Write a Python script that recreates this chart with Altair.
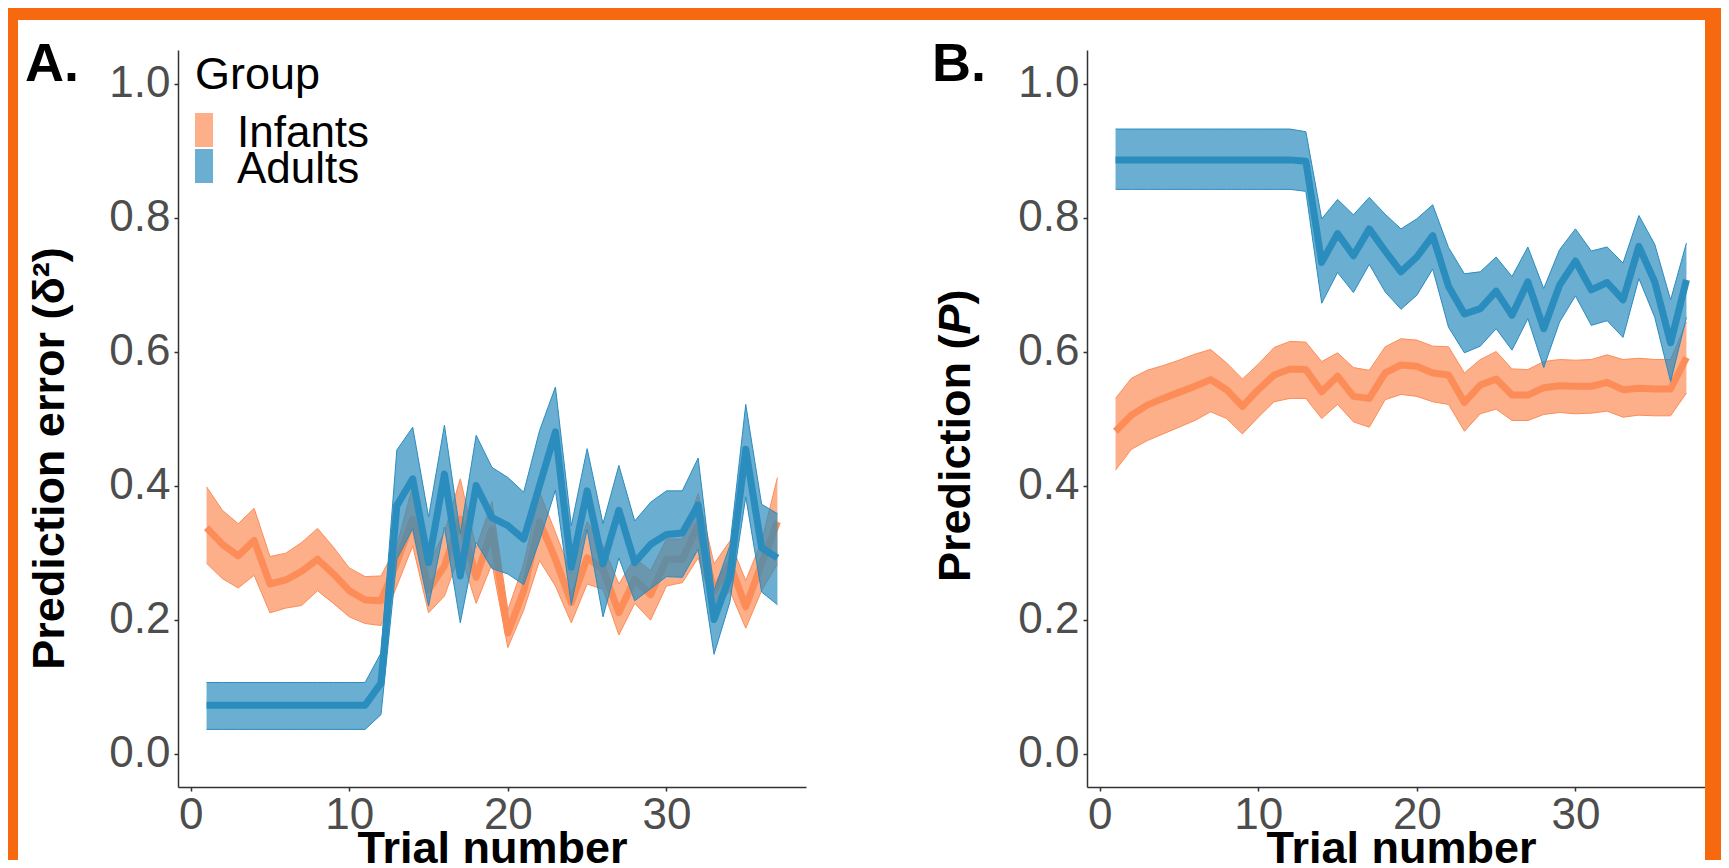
import altair as alt
import pandas as pd

# ---------------- data ----------------
trials = list(range(1, 38))
groups = ["Infants", "Adults"]
colors = ["#FC8D59", "#2B8CBE"]

# Panel A: prediction error
a_inf_mean = [0.337, 0.312, 0.295, 0.318, 0.253, 0.259, 0.272, 0.290, 0.268, 0.243, 0.229, 0.228, 0.285,
              0.350, 0.244, 0.280, 0.350, 0.263, 0.334, 0.180, 0.243, 0.346, 0.290, 0.225, 0.292, 0.275,
              0.210, 0.260, 0.237, 0.290, 0.290, 0.341, 0.243, 0.283, 0.219, 0.283, 0.346]
a_inf_hi = [0.398, 0.363, 0.343, 0.366, 0.294, 0.299, 0.315, 0.336, 0.308, 0.277, 0.264, 0.265, 0.310,
            0.400, 0.283, 0.330, 0.410, 0.307, 0.376, 0.214, 0.283, 0.390, 0.330, 0.268, 0.346, 0.310,
            0.253, 0.292, 0.273, 0.320, 0.320, 0.388, 0.283, 0.317, 0.258, 0.317, 0.412]
a_inf_lo = [0.284, 0.261, 0.247, 0.266, 0.210, 0.217, 0.221, 0.243, 0.224, 0.204, 0.194, 0.191, 0.250,
            0.310, 0.210, 0.235, 0.300, 0.224, 0.283, 0.158, 0.214, 0.288, 0.250, 0.195, 0.253, 0.245,
            0.177, 0.224, 0.199, 0.250, 0.255, 0.292, 0.214, 0.243, 0.187, 0.243, 0.283]

a_ad_mean = [0.072, 0.072, 0.072, 0.072, 0.072, 0.072, 0.072, 0.072, 0.072, 0.072, 0.072, 0.105, 0.370,
             0.410, 0.285, 0.417, 0.265, 0.400, 0.352, 0.340, 0.320, 0.400, 0.480, 0.278, 0.392, 0.283,
             0.363, 0.285, 0.312, 0.327, 0.329, 0.371, 0.200, 0.265, 0.454, 0.307, 0.292]
a_ad_hi = [0.106, 0.106, 0.106, 0.106, 0.106, 0.106, 0.106, 0.106, 0.106, 0.106, 0.106, 0.150, 0.453,
           0.487, 0.353, 0.490, 0.328, 0.475, 0.427, 0.412, 0.390, 0.482, 0.547, 0.340, 0.455, 0.343,
           0.430, 0.347, 0.375, 0.392, 0.392, 0.441, 0.243, 0.310, 0.521, 0.372, 0.358]
a_ad_lo = [0.036, 0.036, 0.036, 0.036, 0.036, 0.036, 0.036, 0.036, 0.036, 0.036, 0.036, 0.058, 0.290,
           0.336, 0.220, 0.338, 0.195, 0.315, 0.276, 0.268, 0.252, 0.318, 0.393, 0.222, 0.335, 0.204,
           0.292, 0.228, 0.246, 0.264, 0.263, 0.305, 0.148, 0.226, 0.383, 0.241, 0.222]

# Panel B: prediction
b_inf_mean = [0.481, 0.505, 0.520, 0.530, 0.539, 0.548, 0.558, 0.543, 0.518, 0.543, 0.565, 0.574, 0.573,
              0.540, 0.563, 0.533, 0.530, 0.568, 0.580, 0.578, 0.568, 0.565, 0.524, 0.550, 0.559, 0.535,
              0.535, 0.546, 0.549, 0.548, 0.548, 0.554, 0.543, 0.545, 0.544, 0.544, 0.591]
b_inf_hi = [0.530, 0.560, 0.572, 0.579, 0.587, 0.596, 0.603, 0.583, 0.559, 0.581, 0.606, 0.615, 0.614,
            0.585, 0.598, 0.576, 0.572, 0.607, 0.619, 0.617, 0.608, 0.607, 0.568, 0.588, 0.600, 0.574,
            0.573, 0.585, 0.588, 0.587, 0.588, 0.595, 0.588, 0.590, 0.588, 0.588, 0.644]
b_inf_lo = [0.423, 0.454, 0.467, 0.477, 0.487, 0.497, 0.510, 0.500, 0.477, 0.502, 0.525, 0.530, 0.530,
            0.500, 0.521, 0.495, 0.487, 0.528, 0.536, 0.533, 0.525, 0.521, 0.481, 0.507, 0.514, 0.497,
            0.497, 0.506, 0.509, 0.507, 0.508, 0.511, 0.502, 0.505, 0.504, 0.504, 0.538]

b_ad_mean = [0.886, 0.886, 0.886, 0.886, 0.886, 0.886, 0.886, 0.886, 0.886, 0.886, 0.886, 0.886, 0.884,
             0.733, 0.776, 0.743, 0.783, 0.750, 0.719, 0.741, 0.773, 0.697, 0.656, 0.664, 0.690, 0.654,
             0.704, 0.634, 0.699, 0.735, 0.692, 0.703, 0.677, 0.757, 0.704, 0.613, 0.707]
b_ad_hi = [0.932, 0.932, 0.932, 0.932, 0.932, 0.932, 0.932, 0.932, 0.932, 0.932, 0.932, 0.932, 0.928,
           0.798, 0.827, 0.804, 0.830, 0.805, 0.783, 0.798, 0.819, 0.755, 0.716, 0.719, 0.741, 0.712,
           0.756, 0.694, 0.752, 0.783, 0.750, 0.756, 0.732, 0.803, 0.760, 0.677, 0.762]
b_ad_lo = [0.842, 0.842, 0.842, 0.842, 0.842, 0.842, 0.842, 0.842, 0.842, 0.842, 0.842, 0.842, 0.839,
           0.672, 0.718, 0.688, 0.730, 0.689, 0.663, 0.684, 0.723, 0.636, 0.598, 0.608, 0.634, 0.602,
           0.649, 0.576, 0.644, 0.683, 0.639, 0.646, 0.621, 0.709, 0.651, 0.555, 0.651]

x_ticks = [0, 10, 20, 30]
y_ticks = [0.0, 0.2, 0.4, 0.6, 0.8, 1.0]

# ---------------- styling ----------------
FONT = "Liberation Sans"
ORANGE = "#F6690F"
W, H = 628, 737


def frame(group, mean, lo, hi):
    return pd.DataFrame({"trial": trials, "group": group, "mean": mean, "lo": lo, "hi": hi})


one = pd.DataFrame({"k": [0]})

xscale = alt.Scale(domain=[-0.8, 38.8], nice=False, zero=False)
yscale = alt.Scale(domain=[-0.05, 1.05], nice=False, zero=False)

xaxis = alt.Axis(values=x_ticks, title="Trial number", format="d",
                 labelBaseline="alphabetic", labelPadding=37,
                 titleBaseline="alphabetic", titleY=75)


def yaxis(title, tx, ty):
    if title is None:
        return alt.Axis(values=y_ticks, format=".1f", title=None)
    return alt.Axis(values=y_ticks, format=".1f", title=title, titleAngle=270,
                    titleBaseline="bottom", titleAlign="center", titleX=tx, titleY=ty)


def group_layers(df, col, yax):
    xenc = alt.X("trial:Q", scale=xscale, axis=xaxis)
    band = alt.Chart(df).mark_area(fillOpacity=0.7, strokeWidth=0, color=col).encode(
        x=xenc, y=alt.Y("lo:Q", scale=yscale, axis=yax), y2="hi:Q")
    edge_lo = alt.Chart(df).mark_line(color=col, strokeWidth=1).encode(
        x=xenc, y=alt.Y("lo:Q", scale=yscale, axis=yax))
    edge_hi = alt.Chart(df).mark_line(color=col, strokeWidth=1).encode(
        x=xenc, y=alt.Y("hi:Q", scale=yscale, axis=yax))
    mean = alt.Chart(df).mark_line(color=col, strokeWidth=7, strokeJoin="round").encode(
        x=xenc, y=alt.Y("mean:Q", scale=yscale, axis=yax))
    return [band, edge_lo, edge_hi, mean]


def text_mark(txt, x, y, size, weight="normal", style="normal", angle=0, baseline="alphabetic",
              color="black"):
    return alt.Chart(one).mark_text(text=txt, font=FONT, fontSize=size, fontWeight=weight,
                                    fontStyle=style, angle=angle, align="left",
                                    baseline=baseline, color=color).encode(
        x=alt.value(x), y=alt.value(y))


# legend ("Group": Infants / Adults), drawn as a key inside panel A
legend_layers = [text_mark("Group", 17, 39, 45)]
for i, g in enumerate(groups):
    top = 63 + 36 * i
    legend_layers.append(
        alt.Chart(one).mark_rect(color=colors[i], opacity=0.7, strokeWidth=0).encode(
            x=alt.value(17), x2=alt.value(35), y=alt.value(top), y2=alt.value(top + 34)))
    legend_layers.append(text_mark(g, 59, top + 34, 44))

# decorations panel A (orange frame top/left, panel letter)
top_band = alt.Chart(one).mark_rect(color=ORANGE, strokeWidth=0).encode(
    x=alt.value(-170), x2=alt.value(1543), y=alt.value(-42), y2=alt.value(-30))
left_band = alt.Chart(one).mark_rect(color=ORANGE, strokeWidth=0).encode(
    x=alt.value(-170), x2=alt.value(-160), y=alt.value(-42), y2=alt.value(810))
label_a = text_mark("A.", -153, 31, 54, weight="bold")

ya = yaxis("Prediction error (δ²)", -106, 408)
layers_a = [top_band, left_band, label_a]
layers_a += group_layers(frame("Infants", a_inf_mean, a_inf_lo, a_inf_hi), colors[0], ya)
layers_a += group_layers(frame("Adults", a_ad_mean, a_ad_lo, a_ad_hi), colors[1], ya)
layers_a += legend_layers
panel_a = alt.layer(*layers_a).properties(width=W, height=H)

# panel B
yb = yaxis(None, 0, 0)
right_band = alt.Chart(one).mark_rect(color=ORANGE, strokeWidth=0).encode(
    x=alt.value(618), x2=alt.value(634), y=alt.value(-42), y2=alt.value(810))
label_b = text_mark("B.", -155, 31, 54, weight="bold")

layers_b = [label_b,
            text_mark("Prediction (", -108, 532, 45, weight="bold", angle=270, baseline="bottom"),
            text_mark("P", -108, 284.5, 45, weight="bold", style="italic", angle=270,
                      baseline="bottom"),
            text_mark(")", -108, 254.5, 45, weight="bold", angle=270, baseline="bottom")]
layers_b += group_layers(frame("Infants", b_inf_mean, b_inf_lo, b_inf_hi), colors[0], yb)
layers_b += group_layers(frame("Adults", b_ad_mean, b_ad_lo, b_ad_hi), colors[1], yb)
layers_b += [right_band]
panel_b = alt.layer(*layers_b).properties(width=W, height=H)

chart = alt.hconcat(panel_a, panel_b, spacing=281, bounds="flush").properties(
    padding=0, background="white"
).configure_view(strokeWidth=0).configure_axis(
    grid=False, labelFont=FONT, labelFontSize=44, labelColor="#4D4D4D", labelFlush=False,
    titleFont=FONT, titleFontSize=45, titleFontWeight="bold", titleColor="black",
    domainColor="#333333", domainWidth=1.5, tickColor="#333333", tickWidth=1.5, tickSize=4,
    labelPadding=4
)

chart.save("out.html", embed_options={"renderer": "svg", "actions": False})
